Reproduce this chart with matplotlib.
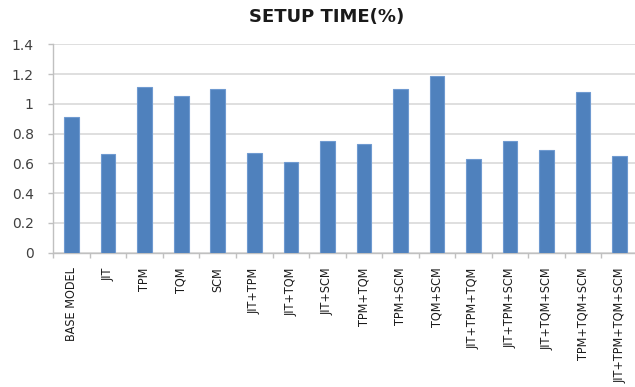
import matplotlib
matplotlib.use("Agg")
import matplotlib.pyplot as plt
import numpy as np

categories = [
    "BASE MODEL", "JIT", "TPM", "TQM", "SCM",
    "JIT+TPM", "JIT+TQM", "JIT+SCM", "TPM+TQM", "TPM+SCM", "TQM+SCM",
    "JIT+TPM+TQM", "JIT+TPM+SCM", "JIT+TQM+SCM", "TPM+TQM+SCM",
    "JIT+TPM+TQM+SCM",
]
setup_time = [0.91, 0.66, 1.11, 1.05, 1.10,
              0.67, 0.61, 0.75, 0.73, 1.10, 1.19,
              0.63, 0.75, 0.69, 1.08, 0.65]
y_ticks = [0, 0.2, 0.4, 0.6, 0.8, 1, 1.2, 1.4]
y_tick_labels = ["0", "0.2", "0.4", "0.6", "0.8", "1", "1.2", "1.4"]
title = "SETUP TIME(%)"

W, H = 635, 387
fig = plt.figure(figsize=(W / 100, H / 100), dpi=100)
ax = fig.add_axes([53.3 / W, 134.3 / H, 584.7 / W, 208.4 / H])

x = np.arange(len(categories))
ax.bar(x, setup_time, width=0.4, color="#4f81bd", edgecolor="#6f9ad0",
       linewidth=0.8, zorder=3)

ax.set_xlim(-0.5, len(categories) - 0.5)
ax.set_ylim(0, 1.4)

ax.set_yticks(y_ticks)
ax.set_yticklabels(y_tick_labels, fontsize=10, color="#404040",
                   family="DejaVu Sans")
ax.tick_params(axis="y", length=3.6, width=1, color="#c0c0c0", pad=10.5)
ax.yaxis.grid(True, color="#d9d9d9", linewidth=1.2, zorder=0)
ax.set_axisbelow(True)

ax.set_xticks(x)
ax.set_xticklabels(categories, rotation=90, fontsize=9.0,
                   family="DejaVu Sans", fontstretch="condensed",
                   color="#1a1a1a", va="top", ha="center")
ax.tick_params(axis="x", which="major", length=0, pad=10.5)
ax.set_xticks(np.arange(-0.5, len(categories), 1.0), minor=True)
ax.tick_params(axis="x", which="minor", length=3.5, width=1, color="#c0c0c0")

for side in ("top", "right"):
    ax.spines[side].set_visible(False)
for side in ("left", "bottom"):
    ax.spines[side].set_color("#c0c0c0")
    ax.spines[side].set_linewidth(1.0)

fig.text(327 / W, 1 - 17 / H, title, ha="center", va="center",
         fontsize=13, fontweight="bold", family="DejaVu Sans",
         color="#1a1a1a")

fig.savefig("out.png", dpi=100, facecolor="white")
